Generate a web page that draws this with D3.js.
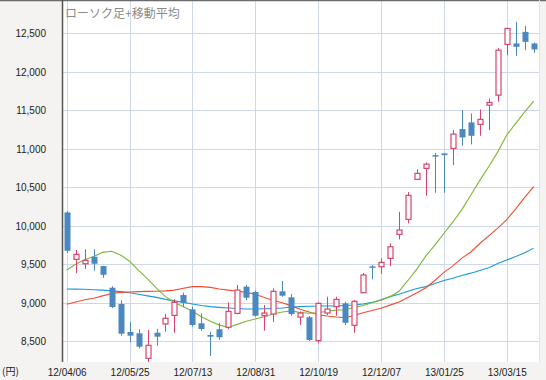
<!DOCTYPE html>
<html>
<head>
<meta charset="utf-8">
<script src="https://cdn.jsdelivr.net/npm/d3@7"></script>
<style>
  body { margin: 0; background: #f4f3f1; }
  svg { display: block; }
</style>
</head>
<body>
<svg id="chart"></svg>
<script>
// size of the picture
var width = 546;
var height = 380;

// weekly candles, first week 12/04/06
var startDate = "12/04/06";
var open  = [10174, 9564, 9507, 9598, 9477, 9196, 8984, 8621, 8604, 8279, 8612, 8725, 8837, 9101, 8915, 8734, 8582, 8656, 8682, 8863, 9209, 9140, 8832, 8854, 9149, 9071, 8815, 8812, 8508, 8867, 8949, 8993, 8708, 9131, 9473, 9468, 9577, 9889, 10084, 10603, 10746, 10918, 10940, 11005, 11256, 11343, 11317, 11567, 11697, 12355, 12368, 12519, 12368];
var high  = [10190, 9685, 9694, 9694, 9480, 9214, 9032, 8747, 8656, 8647, 8660, 8854, 9049, 9131, 8949, 8863, 8621, 8741, 9006, 9231, 9231, 9157, 8971, 9188, 9283, 9114, 8889, 8828, 9006, 9079, 9079, 9014, 9036, 9387, 9490, 9577, 9772, 10182, 10438, 10733, 10823, 10948, 10940, 11243, 11502, 11459, 11511, 11654, 12307, 12571, 12648, 12597, 12381];
var low   = [9650, 9383, 9438, 9416, 9325, 8932, 8573, 8487, 8409, 8227, 8443, 8625, 8612, 8949, 8690, 8638, 8309, 8517, 8656, 8850, 9036, 8819, 8638, 8750, 9079, 8832, 8712, 8504, 8482, 8841, 8832, 8712, 8612, 9123, 9305, 9374, 9477, 9824, 10032, 10603, 10390, 10429, 10429, 10788, 11039, 11057, 11169, 11243, 11610, 12216, 12207, 12281, 12246];
var close = [9676, 9629, 9551, 9507, 9364, 8945, 8599, 8573, 8430, 8448, 8560, 8799, 9006, 9001, 8712, 8660, 8560, 8552, 8889, 9166, 9066, 8832, 8867, 9149, 9092, 8854, 8867, 8517, 8993, 8919, 9045, 8741, 9019, 9361, 9460, 9525, 9728, 9945, 10395, 10681, 10801, 10909, 10918, 11191, 11148, 11169, 11382, 11602, 12281, 12563, 12324, 12389, 12290];

// moving averages
var maGreen = [9425, 9500, 9560, 9600, 9655, 9670, 9620, 9540, 9420, 9310, 9190, 9080, 9005, 8950, 8890, 8820, 8760, 8710, 8682, 8720, 8760, 8790, 8820, 8855, 8880, 8895, 8875, 8865, 8870, 8890, 8905, 8910, 8940, 8965, 9000, 9035, 9080, 9150, 9290, 9440, 9610, 9750, 9900, 10050, 10210, 10400, 10590, 10770, 10960, 11180, 11330, 11480, 11620];
var maRed   = [8980, 9010, 9040, 9060, 9090, 9120, 9135, 9140, 9145, 9148, 9150, 9155, 9165, 9190, 9210, 9210, 9200, 9180, 9165, 9150, 9135, 9110, 9070, 9030, 9000, 8960, 8915, 8880, 8845, 8828, 8815, 8805, 8835, 8870, 8900, 8930, 8970, 9010, 9070, 9130, 9195, 9290, 9395, 9480, 9580, 9660, 9770, 9870, 9970, 10080, 10220, 10370, 10510];
var maBlue  = [9180, 9178, 9175, 9170, 9165, 9155, 9145, 9130, 9110, 9090, 9070, 9045, 9025, 9005, 8985, 8965, 8950, 8940, 8932, 8925, 8920, 8920, 8922, 8926, 8932, 8945, 8950, 8955, 8958, 8958, 8960, 8965, 8972, 8985, 9005, 9040, 9080, 9110, 9150, 9185, 9210, 9250, 9290, 9320, 9355, 9385, 9420, 9455, 9510, 9555, 9600, 9650, 9710];

// axis labels
var xTickLabels = ["12/04/06", "12/05/25", "12/07/13", "12/08/31", "12/10/19", "12/12/07", "13/01/25", "13/03/15"];
var yTicks = [8500, 9000, 9500, 10000, 10500, 11000, 11500, 12000, 12500];
var title = "ローソク足+移動平均";

var parse = d3.timeParse("%y/%m/%d");
var first = parse(startDate);
var dates = open.map((d, i) => d3.timeDay.offset(first, 7 * i));

var svg = d3.select("#chart").attr("width", width).attr("height", height);

// plot box
var plotLeft = 62, plotRight = 539, plotTop = 1, plotBottom = 362;

var xScale = d3.scaleTime().domain([dates[0], dates[dates.length - 1]]).range([66.7, 533.7]);
var yScale = d3.scaleLinear().domain([8500, 12500]).range([341.3, 33.3]);

svg.append("rect").attr("x", 0).attr("y", 0).attr("width", width).attr("height", height).attr("fill", "#f4f3f1");
svg.append("rect").attr("x", plotLeft).attr("y", plotTop).attr("width", plotRight - plotLeft).attr("height", plotBottom - plotTop).attr("fill", "#ffffff");

svg.append("defs").append("clipPath").attr("id", "plot")
  .append("rect").attr("x", plotLeft).attr("y", plotTop).attr("width", plotRight - plotLeft).attr("height", plotBottom - plotTop);

// grid
var yAxis = d3.axisLeft(yScale).tickValues(yTicks).tickSize(-(plotRight - plotLeft)).tickFormat(d3.format(","));
var gy = svg.append("g").attr("transform", "translate(" + plotLeft + ",0)").call(yAxis);
gy.select(".domain").remove();
gy.selectAll("line").attr("stroke", "#cfd8ea").attr("shape-rendering", "crispEdges");
gy.selectAll("text").attr("x", -16).attr("font-family", "Liberation Sans, Arial, sans-serif").attr("font-size", 10).attr("fill", "#222");

var xAxis = d3.axisBottom(xScale).tickValues(xTickLabels.map(parse)).tickSize(-(plotBottom - plotTop)).tickFormat(d3.timeFormat("%y/%m/%d"));
var gx = svg.append("g").attr("transform", "translate(0," + plotBottom + ")").call(xAxis);
gx.select(".domain").remove();
gx.selectAll("line").attr("stroke", "#cfd8ea").attr("shape-rendering", "crispEdges");
gx.selectAll("text").attr("y", 7).attr("font-family", "Liberation Sans, Arial, sans-serif").attr("font-size", 10).attr("fill", "#222");

// moving average lines
var plot = svg.append("g").attr("clip-path", "url(#plot)");
var line = (arr) => d3.line().x((d, i) => xScale(dates[i])).y((d) => yScale(d))(arr);
[[maBlue, "#1b9ad8"], [maRed, "#ee4e32"], [maGreen, "#7db737"]].forEach((s) => {
  plot.append("path").attr("d", line(s[0])).attr("fill", "none").attr("stroke", s[1]).attr("stroke-width", 1.1);
});

// candles
var upColor = "#d9436b", downColor = "#4a88bf";
var candles = plot.selectAll("g.candle").data(dates).enter().append("g").attr("class", "candle");
candles.append("line")
  .attr("x1", (d) => Math.round(xScale(d)) + 0.5).attr("x2", (d) => Math.round(xScale(d)) + 0.5)
  .attr("y1", (d, i) => yScale(high[i])).attr("y2", (d, i) => yScale(low[i]))
  .attr("stroke", (d, i) => close[i] >= open[i] ? upColor : downColor).attr("stroke-width", 1);
candles.append("rect")
  .attr("x", (d, i) => Math.round(xScale(d)) - 2.5 + (close[i] >= open[i] ? 0.5 : 0))
  .attr("width", (d, i) => close[i] >= open[i] ? 5 : 6)
  .attr("y", (d, i) => yScale(Math.max(open[i], close[i])))
  .attr("height", (d, i) => Math.max(1.5, Math.abs(yScale(open[i]) - yScale(close[i]))))
  .attr("fill", (d, i) => close[i] >= open[i] ? "#ffffff" : downColor)
  .attr("stroke", (d, i) => close[i] >= open[i] ? upColor : "none")
  .attr("stroke-width", 1.2);

// frame
svg.append("line").attr("x1", 0).attr("x2", width).attr("y1", 0.5).attr("y2", 0.5).attr("stroke", "#6b6b6b").attr("stroke-width", 1.5);
svg.append("line").attr("x1", plotLeft + 0.5).attr("x2", plotLeft + 0.5).attr("y1", 0).attr("y2", plotBottom).attr("stroke", "#555").attr("stroke-width", 1.5);
svg.append("line").attr("x1", plotRight + 0.5).attr("x2", plotRight + 0.5).attr("y1", 0).attr("y2", plotBottom).attr("stroke", "#e2e2e2");

svg.append("text").attr("x", 65).attr("y", 18).text(title)
  .attr("font-family", "Noto Sans CJK JP, sans-serif").attr("font-size", 12).attr("fill", "#8a8a8a");
svg.append("text").attr("x", 2).attr("y", 375).text("(円)")
  .attr("font-family", "Noto Sans CJK JP, sans-serif").attr("font-size", 10).attr("fill", "#222");
</script>
</body>
</html>
